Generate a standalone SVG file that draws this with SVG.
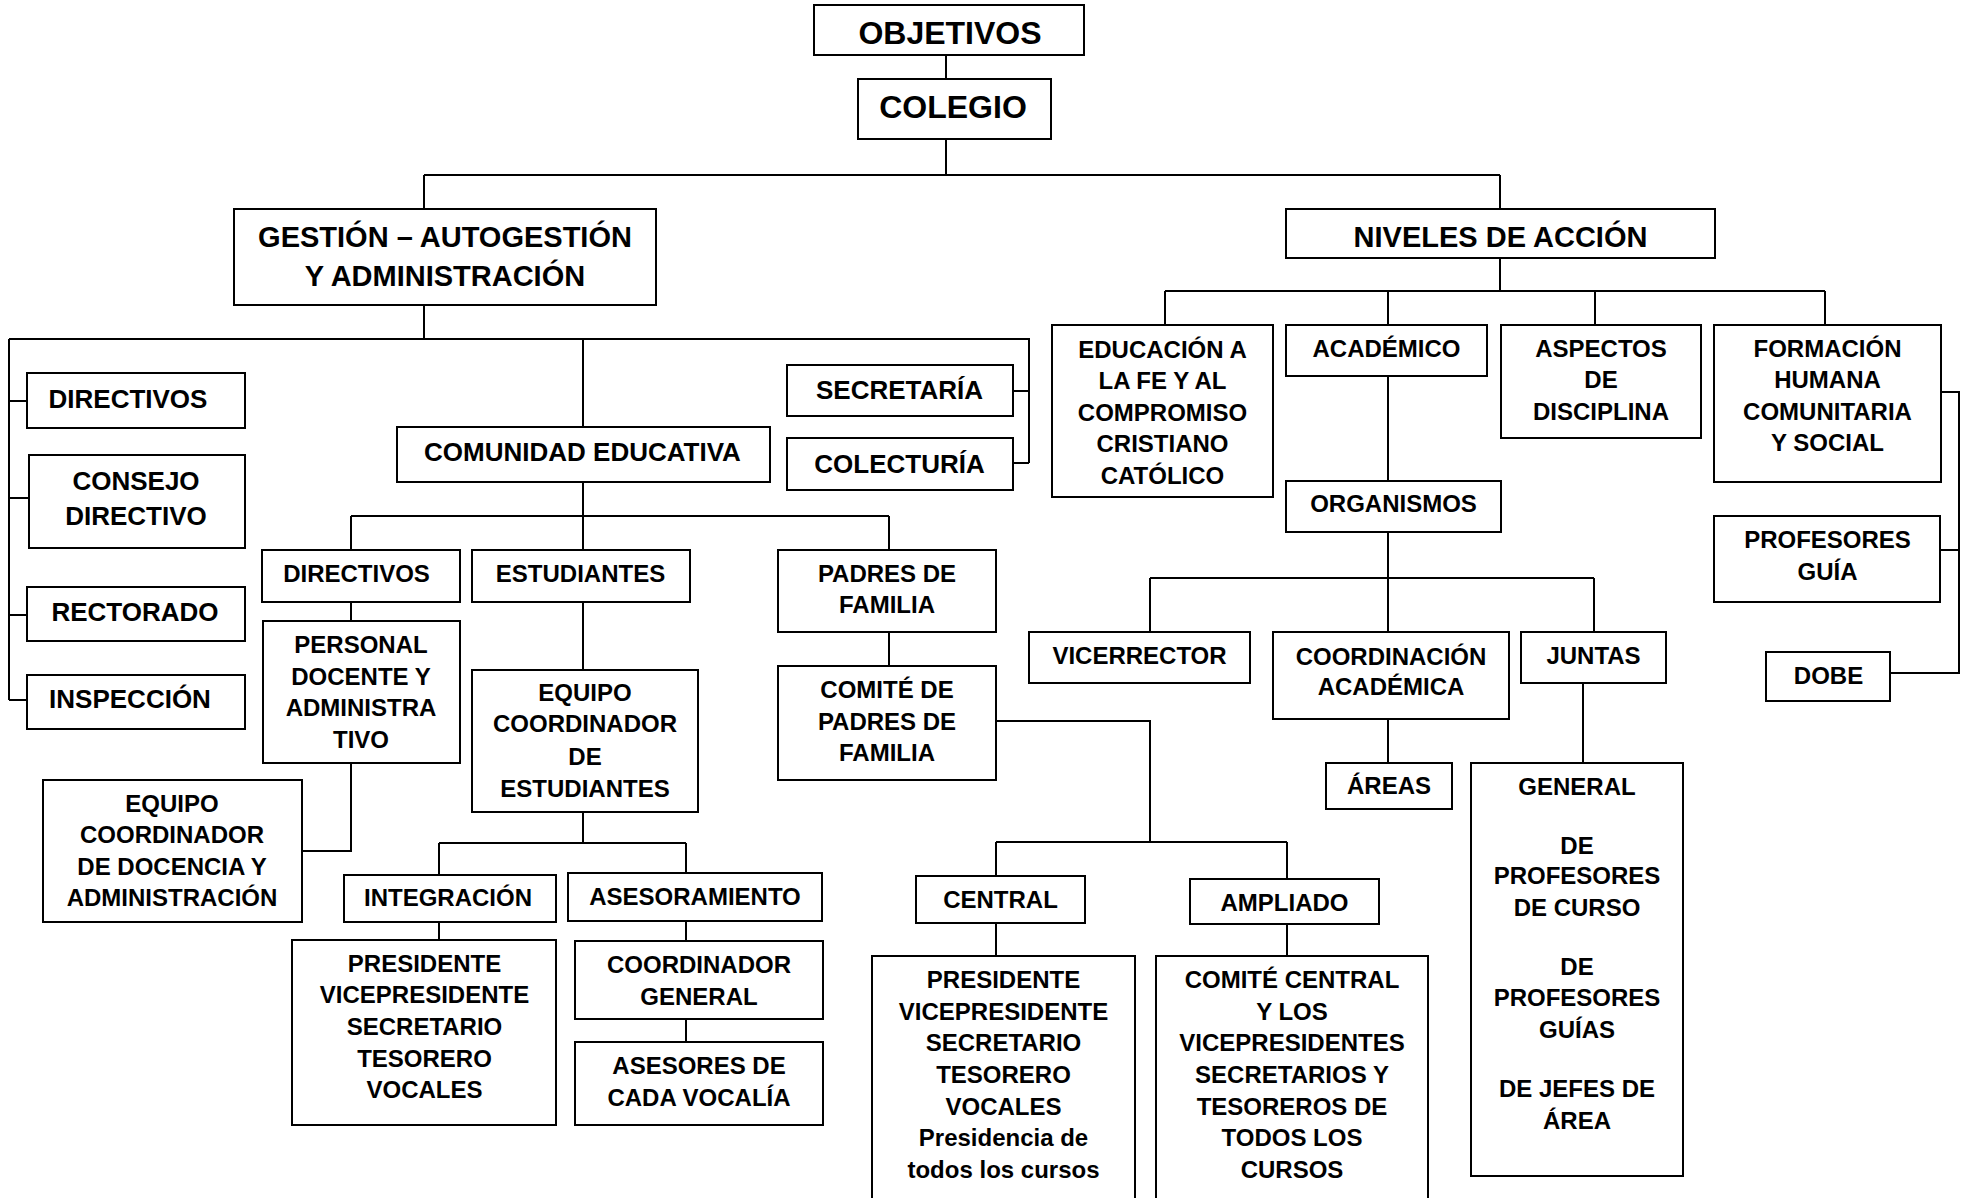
<svg xmlns="http://www.w3.org/2000/svg" width="1966" height="1198" viewBox="0 0 1966 1198">
<style>
.bx{fill:#fff;stroke:#000;stroke-width:2}
.ln{fill:none;stroke:#000;stroke-width:2}
text{font-family:"Liberation Sans",Arial,sans-serif;font-weight:bold;text-anchor:middle;fill:#000}
.t32{font-size:32px}.t29{font-size:29px}.t26{font-size:26px}.t24{font-size:24px}
</style>
<rect width="1966" height="1198" fill="#fff"/>
<g id="connectors">
<path class="ln" d="M946,55V79M946,139V175M424,175H1500M424,175V209M1500,175V209"/>
<path class="ln" d="M424,305V339M9,339H1029V463M9,339V700M9,401H27M9,498H29M9,615H27M9,700H27M1013,391H1029M1013,463H1029"/>
<path class="ln" d="M583,339V427M583,482V550M351,516H889M351,516V550M889,516V550"/>
<path class="ln" d="M351,602V621M351,763V851H302M583,602V670M583,812V843M439,843H686M439,843V875M686,843V873M439,922V940M686,921V941M686,1019V1042"/>
<path class="ln" d="M889,632V666M996,721H1150V842M996,842H1287M996,842V876M1287,842V879M996,923V956M1287,924V956"/>
<path class="ln" d="M1500,258V291M1165,291H1825M1165,291V325M1388,291V325M1595,291V325M1825,291V325"/>
<path class="ln" d="M1388,376V481M1388,532V632M1150,578H1594M1150,578V632M1594,578V632M1388,719V763M1583,683V763"/>
<path class="ln" d="M1941,392H1959V673H1890M1940,550H1959"/>
</g>
<g id="objetivos"><rect class="bx" x="814" y="5" width="270" height="50"/><text class="t32" x="950" y="44">OBJETIVOS</text></g>
<g id="colegio"><rect class="bx" x="858" y="79" width="193" height="60"/><text class="t32" x="953" y="117.5">COLEGIO</text></g>
<g id="gestion"><rect class="bx" x="234" y="209" width="422" height="96"/><text class="t29" x="445" y="246.5">GESTIÓN – AUTOGESTIÓN</text><text class="t29" x="445" y="285.5">Y ADMINISTRACIÓN</text></g>
<g id="niveles"><rect class="bx" x="1286" y="209" width="429" height="49"/><text class="t29" x="1500.5" y="246.5">NIVELES DE ACCIÓN</text></g>
<g id="directivos1"><rect class="bx" x="27" y="373" width="218" height="55"/><text class="t26" x="128" y="408">DIRECTIVOS</text></g>
<g id="consejo"><rect class="bx" x="29" y="455" width="216" height="93"/><text class="t26" x="136" y="489.5">CONSEJO</text><text class="t26" x="136" y="524.5">DIRECTIVO</text></g>
<g id="rectorado"><rect class="bx" x="27" y="587" width="218" height="54"/><text class="t26" x="135" y="620.5">RECTORADO</text></g>
<g id="inspeccion"><rect class="bx" x="27" y="675" width="218" height="54"/><text class="t26" x="130" y="708">INSPECCIÓN</text></g>
<g id="comunidad"><rect class="bx" x="397" y="427" width="373" height="55"/><text class="t26" x="582.5" y="461">COMUNIDAD EDUCATIVA</text></g>
<g id="secretaria"><rect class="bx" x="787" y="365" width="226" height="51"/><text class="t26" x="899.5" y="399">SECRETARÍA</text></g>
<g id="colecturia"><rect class="bx" x="787" y="438" width="226" height="52"/><text class="t26" x="899.5" y="473">COLECTURÍA</text></g>
<g id="directivos2"><rect class="bx" x="262" y="550" width="198" height="52"/><text class="t24" x="356.5" y="581.5">DIRECTIVOS</text></g>
<g id="estudiantes"><rect class="bx" x="472" y="550" width="218" height="52"/><text class="t24" x="580.5" y="581.5">ESTUDIANTES</text></g>
<g id="padres"><rect class="bx" x="778" y="550" width="218" height="82"/><text class="t24" x="887" y="582">PADRES DE</text><text class="t24" x="887" y="613">FAMILIA</text></g>
<g id="personal"><rect class="bx" x="263" y="621" width="197" height="142"/><text class="t24" x="361" y="653">PERSONAL</text><text class="t24" x="361" y="684.5">DOCENTE Y</text><text class="t24" x="361" y="716">ADMINISTRA</text><text class="t24" x="361" y="747.5">TIVO</text></g>
<g id="equipo-est"><rect class="bx" x="472" y="670" width="226" height="142"/><text class="t24" x="585" y="700.5">EQUIPO</text><text class="t24" x="585" y="732">COORDINADOR</text><text class="t24" x="585" y="764.5">DE</text><text class="t24" x="585" y="796.5">ESTUDIANTES</text></g>
<g id="comite"><rect class="bx" x="778" y="666" width="218" height="114"/><text class="t24" x="887" y="698">COMITÉ DE</text><text class="t24" x="887" y="729.5">PADRES DE</text><text class="t24" x="887" y="760.5">FAMILIA</text></g>
<g id="equipo-doc"><rect class="bx" x="43" y="780" width="259" height="142"/><text class="t24" x="172" y="811.5">EQUIPO</text><text class="t24" x="172" y="843">COORDINADOR</text><text class="t24" x="172" y="874.5">DE DOCENCIA Y</text><text class="t24" x="172" y="906">ADMINISTRACIÓN</text></g>
<g id="integracion"><rect class="bx" x="344" y="875" width="212" height="47"/><text class="t24" x="448" y="905.5">INTEGRACIÓN</text></g>
<g id="asesoramiento"><rect class="bx" x="568" y="873" width="254" height="48"/><text class="t24" x="695" y="904.5">ASESORAMIENTO</text></g>
<g id="presidente-int"><rect class="bx" x="292" y="940" width="264" height="185"/><text class="t24" x="424.5" y="971.5">PRESIDENTE</text><text class="t24" x="424.5" y="1003">VICEPRESIDENTE</text><text class="t24" x="424.5" y="1034.5">SECRETARIO</text><text class="t24" x="424.5" y="1066.5">TESORERO</text><text class="t24" x="424.5" y="1098">VOCALES</text></g>
<g id="coord-general"><rect class="bx" x="575" y="941" width="248" height="78"/><text class="t24" x="699" y="973">COORDINADOR</text><text class="t24" x="699" y="1004.5">GENERAL</text></g>
<g id="asesores"><rect class="bx" x="575" y="1042" width="248" height="83"/><text class="t24" x="699" y="1074">ASESORES DE</text><text class="t24" x="699" y="1105.5">CADA VOCALÍA</text></g>
<g id="central"><rect class="bx" x="916" y="876" width="169" height="47"/><text class="t24" x="1000.5" y="908">CENTRAL</text></g>
<g id="ampliado"><rect class="bx" x="1190" y="879" width="189" height="45"/><text class="t24" x="1284.5" y="911">AMPLIADO</text></g>
<g id="central-miembros"><rect class="bx" x="872" y="956" width="263" height="260"/><text class="t24" x="1003.5" y="988">PRESIDENTE</text><text class="t24" x="1003.5" y="1019.5">VICEPRESIDENTE</text><text class="t24" x="1003.5" y="1051">SECRETARIO</text><text class="t24" x="1003.5" y="1082.5">TESORERO</text><text class="t24" x="1003.5" y="1114.5">VOCALES</text><text class="t24" x="1003.5" y="1146">Presidencia de</text><text class="t24" x="1003.5" y="1177.5">todos los cursos</text></g>
<g id="ampliado-miembros"><rect class="bx" x="1156" y="956" width="272" height="260"/><text class="t24" x="1292" y="988">COMITÉ CENTRAL</text><text class="t24" x="1292" y="1019.5">Y LOS</text><text class="t24" x="1292" y="1051">VICEPRESIDENTES</text><text class="t24" x="1292" y="1082.5">SECRETARIOS Y</text><text class="t24" x="1292" y="1114.5">TESOREROS DE</text><text class="t24" x="1292" y="1146">TODOS LOS</text><text class="t24" x="1292" y="1177.5">CURSOS</text></g>
<g id="educacion-fe"><rect class="bx" x="1052" y="325" width="221" height="172"/><text class="t24" x="1162.5" y="357.5">EDUCACIÓN A</text><text class="t24" x="1162.5" y="389">LA FE Y AL</text><text class="t24" x="1162.5" y="420.5">COMPROMISO</text><text class="t24" x="1162.5" y="452">CRISTIANO</text><text class="t24" x="1162.5" y="483.5">CATÓLICO</text></g>
<g id="academico"><rect class="bx" x="1286" y="325" width="201" height="51"/><text class="t24" x="1386.5" y="356.5">ACADÉMICO</text></g>
<g id="aspectos"><rect class="bx" x="1501" y="325" width="200" height="113"/><text class="t24" x="1601" y="356.5">ASPECTOS</text><text class="t24" x="1601" y="388">DE</text><text class="t24" x="1601" y="419.5">DISCIPLINA</text></g>
<g id="formacion"><rect class="bx" x="1714" y="325" width="227" height="157"/><text class="t24" x="1827.5" y="356.5">FORMACIÓN</text><text class="t24" x="1827.5" y="388">HUMANA</text><text class="t24" x="1827.5" y="419.5">COMUNITARIA</text><text class="t24" x="1827.5" y="451">Y SOCIAL</text></g>
<g id="organismos"><rect class="bx" x="1286" y="481" width="215" height="51"/><text class="t24" x="1393.5" y="511.5">ORGANISMOS</text></g>
<g id="profesores-guia"><rect class="bx" x="1714" y="516" width="226" height="86"/><text class="t24" x="1827.5" y="548">PROFESORES</text><text class="t24" x="1827.5" y="579.5">GUÍA</text></g>
<g id="dobe"><rect class="bx" x="1766" y="652" width="124" height="49"/><text class="t24" x="1828.5" y="684">DOBE</text></g>
<g id="vicerrector"><rect class="bx" x="1029" y="632" width="221" height="51"/><text class="t24" x="1139.5" y="664">VICERRECTOR</text></g>
<g id="coordinacion"><rect class="bx" x="1273" y="632" width="236" height="87"/><text class="t24" x="1391" y="665">COORDINACIÓN</text><text class="t24" x="1391" y="695">ACADÉMICA</text></g>
<g id="juntas"><rect class="bx" x="1521" y="632" width="145" height="51"/><text class="t24" x="1593.5" y="664">JUNTAS</text></g>
<g id="areas"><rect class="bx" x="1326" y="763" width="126" height="46"/><text class="t24" x="1389" y="794">ÁREAS</text></g>
<g id="general"><rect class="bx" x="1471" y="763" width="212" height="413"/><text class="t24" x="1577" y="795">GENERAL</text><text class="t24" x="1577" y="854">DE</text><text class="t24" x="1577" y="884">PROFESORES</text><text class="t24" x="1577" y="916">DE CURSO</text><text class="t24" x="1577" y="975">DE</text><text class="t24" x="1577" y="1006">PROFESORES</text><text class="t24" x="1577" y="1038">GUÍAS</text><text class="t24" x="1577" y="1097">DE JEFES DE</text><text class="t24" x="1577" y="1129">ÁREA</text></g>
</svg>
